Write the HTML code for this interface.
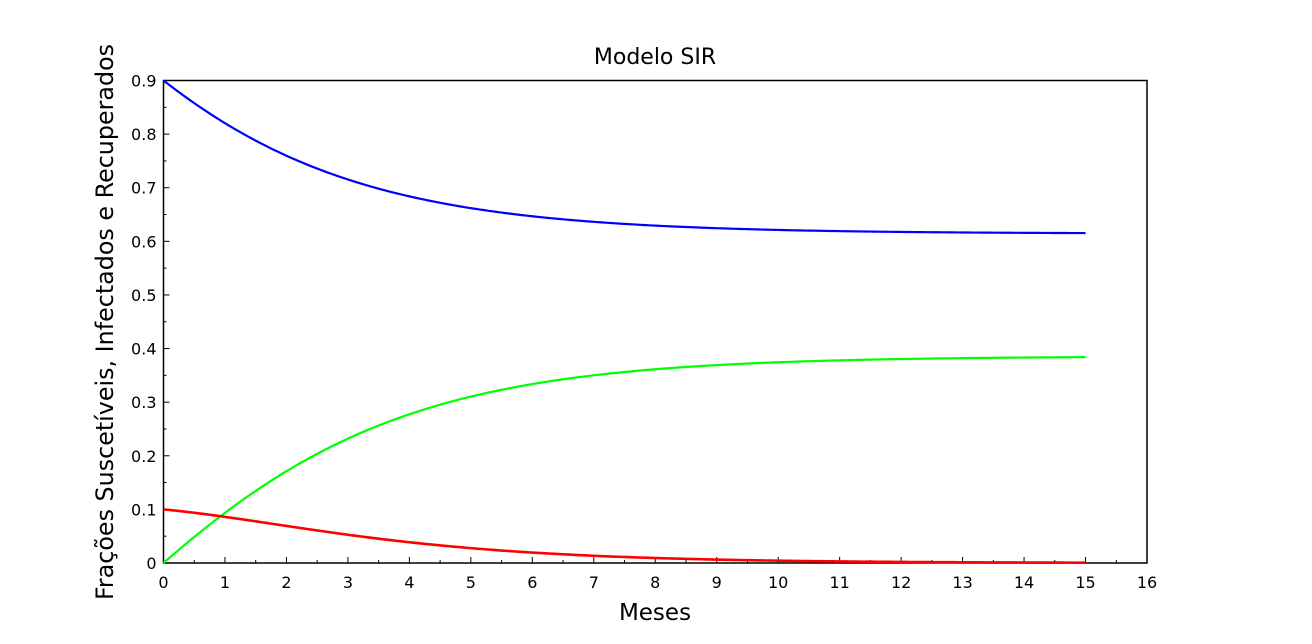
<!DOCTYPE html>
<html><head><meta charset="utf-8"><style>
html,body{margin:0;padding:0;background:#fff;}
svg{display:block;font-family:"DejaVu Sans","Liberation Sans",sans-serif;}
</style></head><body>
<svg id="s" width="1312" height="644" xmlns="http://www.w3.org/2000/svg">
<rect width="1312" height="644" fill="#fff"/>
<text x="655" y="64" font-size="22" text-anchor="middle">Modelo SIR</text>
<text x="655" y="620" font-size="23" text-anchor="middle">Meses</text>
<text transform="translate(113,322) rotate(-90)" font-size="23.8" text-anchor="middle">Frações Suscetíveis, Infectados e Recuperados</text>
<g id="ax"></g>
<g id="cv"></g>
</svg>
<script>
var X0=163.5,X1=1147,Y0=563,YT=80.5;
function px(t){return X0+(X1-X0)*t/16;}
function py(v){return Y0-(Y0-YT)*v/0.9;}
var ns="http://www.w3.org/2000/svg",ax=document.getElementById('ax'),cv=document.getElementById('cv');
function el(n,a,p,txt){var e=document.createElementNS(ns,n);for(var k in a)e.setAttribute(k,a[k]);if(txt!=null)e.textContent=txt;(p||ax).appendChild(e);return e;}
el('rect',{x:X0,y:YT,width:X1-X0,height:Y0-YT,fill:'none',stroke:'#000','stroke-width':1.5});
for(var i=0;i<=16;i++){var x=px(i);
 el('line',{x1:x,y1:Y0,x2:x,y2:Y0-6,stroke:'#000','stroke-width':1});
 el('text',{x:x,y:Y0+25,'font-size':16,'text-anchor':'middle'},null,i);
 if(i<16){var xm=px(i+0.5);el('line',{x1:xm,y1:Y0,x2:xm,y2:Y0-3,stroke:'#000','stroke-width':1});}
}
var lab=['0','0.1','0.2','0.3','0.4','0.5','0.6','0.7','0.8','0.9'];
for(var j=0;j<=9;j++){var y=py(j/10);
 el('line',{x1:X0,y1:y,x2:X0+6,y2:y,stroke:'#000','stroke-width':1});
 el('text',{x:X0-7,y:y+6,'font-size':16,'text-anchor':'end'},null,lab[j]);
 if(j<9){var ym=py(j/10+0.05);el('line',{x1:X0,y1:ym,x2:X0+3,y2:ym,stroke:'#000','stroke-width':1});}
}
var b=0.99,g=1.0,S=0.9,I=0.1,R=0,h=0.01;
var pS=[],pI=[],pR=[];
function f(s,i){return [-b*s*i,b*s*i-g*i,g*i];}
for(var n=0;n<=1500;n++){var t=n*h;
 if(n%5==0){pS.push(px(t).toFixed(2)+','+py(S).toFixed(2));pI.push(px(t).toFixed(2)+','+py(I).toFixed(2));pR.push(px(t).toFixed(2)+','+py(R).toFixed(2));}
 var k1=f(S,I),k2=f(S+h/2*k1[0],I+h/2*k1[1]),k3=f(S+h/2*k2[0],I+h/2*k2[1]),k4=f(S+h*k3[0],I+h*k3[1]);
 for(var q=0;q<3;q++){var d=h/6*(k1[q]+2*k2[q]+2*k3[q]+k4[q]);if(q==0)S+=d;else if(q==1)I+=d;else R+=d;}
}
el('polyline',{points:pS.join(' '),fill:'none',stroke:'#0000ff','stroke-width':2.2},cv);
el('polyline',{points:pR.join(' '),fill:'none',stroke:'#00ff00','stroke-width':2.2},cv);
el('polyline',{points:pI.join(' '),fill:'none',stroke:'#ff0000','stroke-width':2.6},cv);
</script>
</body></html>
